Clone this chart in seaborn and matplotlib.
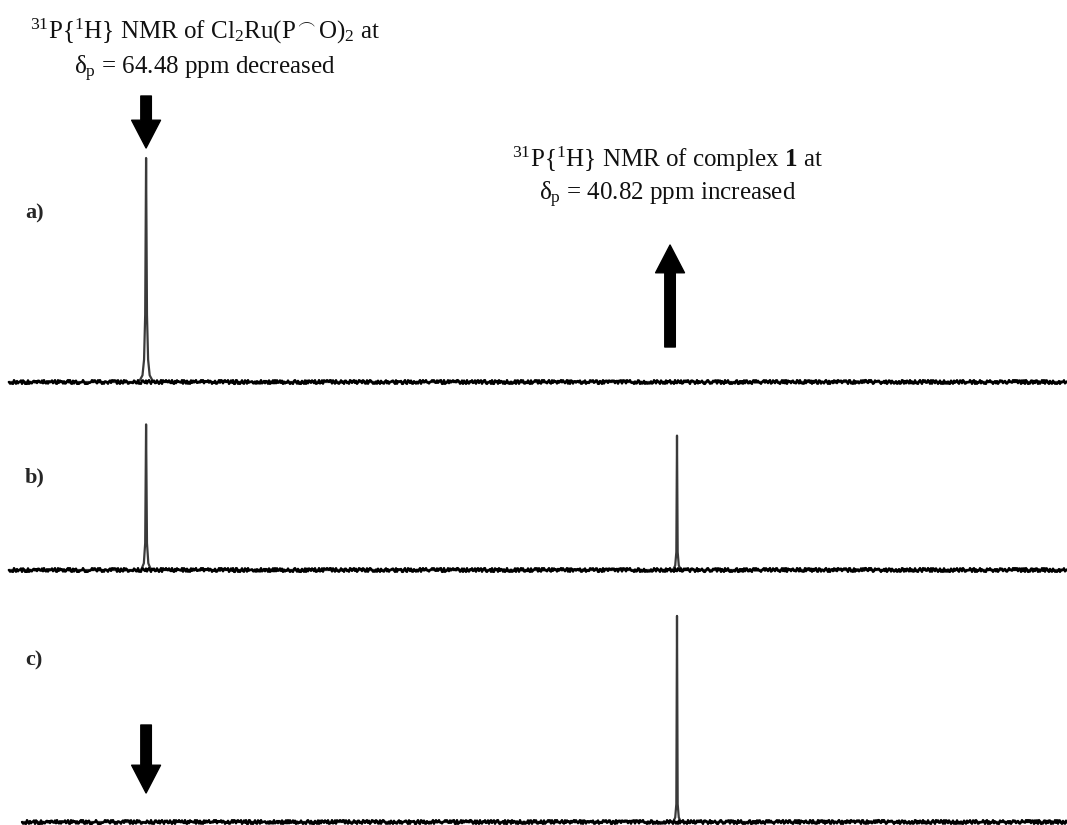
import numpy as np
import pandas as pd
import matplotlib
matplotlib.use("Agg")
import matplotlib.pyplot as plt
import seaborn as sns

# ---------------- data ----------------
# chemical shifts (ppm) and relative intensities for each spectrum
ppm_a = [70.60, 64.80, 64.64, 64.57, 64.52, 64.48, 64.44, 64.39, 64.32, 64.16, 23.45]
int_a = [0, 0, 3, 10, 30, 100, 30, 10, 3, 0, 0]

ppm_b = [70.60, 64.70, 64.58, 64.52, 64.48, 64.44, 64.38, 64.26,
         41.00, 40.90, 40.85, 40.82, 40.79, 40.74, 40.64, 23.45]
int_b = [0, 0, 3, 12, 65, 12, 3, 0,
         0, 2, 8, 60, 8, 2, 0, 0]

ppm_c = [70.00, 41.00, 40.90, 40.85, 40.82, 40.79, 40.74, 40.64, 23.45]
int_c = [0, 0, 2, 8, 92, 8, 2, 0, 0]

labels = ["a)", "b)", "c)"]
shift_decreased = 64.48
shift_increased = 40.82

# ---------------- style ----------------
sns.set_style("white")
plt.rcParams["font.family"] = ["Liberation Serif", "DejaVu Serif"]
plt.rcParams["mathtext.fontset"] = "custom"
plt.rcParams["mathtext.rm"] = "Liberation Serif"
plt.rcParams["mathtext.it"] = "Liberation Serif:italic"
plt.rcParams["mathtext.bf"] = "Liberation Serif:bold"

W, H = 1067, 825
fig = plt.figure(figsize=(W / 100, H / 100), dpi=100)
ax = fig.add_axes([0, 0, 1, 1])

# layout: baselines (pixel rows) and intensity scale
baselines = [382, 570, 822]
px_per_unit = 2.24
spectra = [(ppm_a, int_a), (ppm_b, int_b), (ppm_c, int_c)]

for (ppm, inten), base in zip(spectra, baselines):
    df = pd.DataFrame({"ppm": ppm,
                       "y": base - px_per_unit * np.asarray(inten, float)})
    # the spectrum itself (smooth peaks)
    sns.lineplot(data=df, x="ppm", y="y", ax=ax, color="#3a3a3a",
                 linewidth=1.6, sort=False, estimator=None)
    # baseline drawn with a sketchy (noisy-looking) style
    base_df = pd.DataFrame({"ppm": [ppm[0], ppm[-1]], "y": [base, base]})
    sns.lineplot(data=base_df, x="ppm", y="y", ax=ax, color="black",
                 linewidth=1.7, sort=False, estimator=None)
    ax.lines[-1].set_sketch_params(scale=1.9, length=2.5, randomness=2.5)

ax.set_xlim(70.99, 23.44)
ax.set_ylim(H, 0)
ax.axis("off")

# panel labels
for lab, ypix in zip(labels, [213, 477, 660]):
    fig.text(25 / W, 1 - ypix / H, lab, fontsize=16, fontweight="bold",
             ha="left", va="center")

# annotation texts
fs = 18
fig.text(205 / W, 1 - 31 / H,
         r"$^{31}$P{$^{1}$H} NMR of Cl$_2$Ru(P$^{\frown}$O)$_2$ at",
         fontsize=fs, ha="center", va="center", color="#111111")
fig.text(205 / W, 1 - 69 / H,
         "δ" + r"$_{\mathrm{p}}$" + f" = {shift_decreased:.2f} ppm decreased",
         fontsize=fs, ha="center", va="center", color="#111111")
fig.text(668 / W, 1 - 159 / H,
         r"$^{31}$P{$^{1}$H} NMR of complex $\mathbf{1}$ at",
         fontsize=fs, ha="center", va="center", color="#111111")
fig.text(668 / W, 1 - 195 / H,
         "δ" + r"$_{\mathrm{p}}$" + f" = {shift_increased:.2f} ppm increased",
         fontsize=fs, ha="center", va="center", color="#111111")

# arrows
def arrow(x, y_from, y_to, hw=1.04, hl=1.0, tw=0.38, ms=20):
    ax.annotate("", xy=(x, y_to), xytext=(x, y_from),
                arrowprops=dict(arrowstyle=f"simple,head_length={hl},head_width={hw},tail_width={tw}",
                                mutation_scale=ms, color="black",
                                shrinkA=0, shrinkB=0))

arrow(shift_decreased, 96, 148)
arrow(41.13, 347, 245)
arrow(shift_decreased, 725, 793)

fig.savefig("out.png", dpi=100, facecolor="white")
